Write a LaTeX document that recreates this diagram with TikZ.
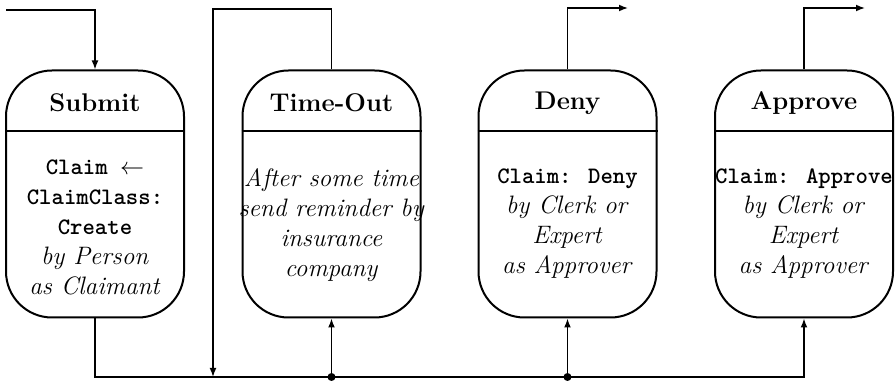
\documentclass[tikz,border=0pt]{standalone}
\usepackage{fontspec}
\usetikzlibrary{arrows.meta,calc}
\newcommand{\op}[1]{{\fontsize{11.8}{15}\selectfont\ttfamily\bfseries #1}}

\begin{document}
\begin{tikzpicture}[x=0.5pt,y=-0.5pt,
  act/.style={draw,line width=1pt,rounded corners=23pt,minimum width=89pt,minimum height=123.5pt},
  head/.style={font=\fontsize{12.8}{15}\selectfont\bfseries},
  body/.style={font=\fontsize{12.6}{15}\selectfont,align=center,inner sep=0pt},
  flow/.style={line width=0.65pt,-{Latex[length=4.5pt,width=3.4pt]}},
  wire/.style={line width=0.65pt}]
  \useasboundingbox (0,0) rectangle (896,383);
  % activity boxes with their headings
  \foreach \n/\x/\t in {submit/95/Submit,timeout/331.5/Time-Out,deny/567.5/Deny,approve/804/Approve}{
    \node[act] (\n) at (\x,194) {};
    \node[head] (\n-t) at (\x,103) {\t};
    \draw[line width=1pt] ($(\n.north west)+(0,62)$) -- ($(\n.north east)+(0,62)$);}
  \node[body] (submit-b) at (95,227) {\op{Claim $\leftarrow$}\\\op{ClaimClass:}\\\op{Create}\\\textit{by Person}\\\textit{as Claimant}};
  \node[body] (timeout-b) at (331.5,225) {\textit{After some time}\\\textit{send reminder by}\\\textit{insurance}\\\textit{company}};
  \node[body] (deny-b) at (567.5,224) {\op{Claim: Deny}\\\textit{by Clerk or}\\\textit{Expert}\\\textit{as Approver}};
  \node[body] (approve-b) at (804,224) {\op{Claim: Approve}\\\textit{by Clerk or}\\\textit{Expert}\\\textit{as Approver}};
  % control flow
  \coordinate (in) at (6,10);
  \coordinate (bus) at (95,377);
  \coordinate (ret) at (213,9);
  \coordinate (denyout) at (628,8);
  \coordinate (approveout) at (865,8);
  \draw[flow] (in) -| (submit.north);
  \draw[flow] (timeout.north) |- (ret) -- (ret |- bus);
  \draw[flow] (submit.south) |- (approve.south |- bus) -- (approve.south);
  \foreach \n in {timeout,deny}{
    \fill (\n.south |- bus) circle (2pt);
    \draw[flow] (\n.south |- bus) -- (\n.south);}
  \draw[flow] (deny.north) |- (denyout);
  \draw[flow] (approve.north) |- (approveout);
\end{tikzpicture}
\end{document}
